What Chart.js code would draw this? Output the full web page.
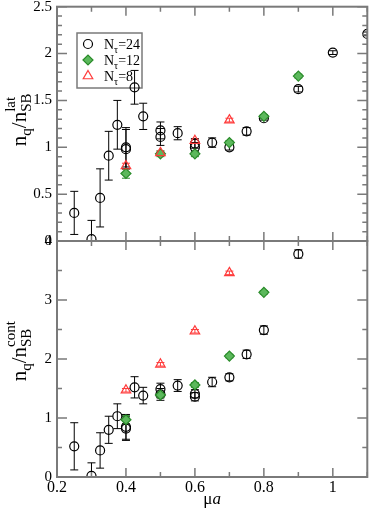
<!DOCTYPE html>
<html>
<head>
<meta charset="utf-8">
<script src="https://cdn.jsdelivr.net/npm/chart.js@4.4.1/dist/chart.umd.min.js"></script>
<style>
  body { margin: 0; background: #fff; }
  #wrap { position: relative; width: 374px; height: 510px; }
  #wrap canvas { position: absolute; left: 0; top: 0; }
</style>
</head>
<body>
<div id="wrap">
  <canvas id="latChart" width="374" height="510"></canvas>
  <canvas id="contChart" width="374" height="510"></canvas>
</div>
<script>
// mu*a values
const muN24 = [0.25, 0.3, 0.325, 0.35, 0.375, 0.4, 0.4, 0.425, 0.45, 0.5, 0.5, 0.55, 0.6, 0.6, 0.65, 0.7, 0.75, 0.8, 0.9, 1.0, 1.1];
const muN12 = [0.4, 0.5, 0.6, 0.7, 0.8, 0.9];
const muN8 = [0.4, 0.5, 0.6, 0.7];

// top panel: n_q / n_SB (lat)
const latN24 = [0.30, 0.02, 0.46, 0.91, 1.24, 1.00, 0.98, 1.64, 1.33, 1.18, 1.11, 1.15, 1.00, 1.04, 1.05, 1.00, 1.17, 1.31, 1.62, 2.01, 2.21];
const latN24Err = [0.23, 0.20, 0.31, 0.26, 0.26, 0.21, 0.21, 0.18, 0.14, 0.09, 0.09, 0.07, 0.05, 0.05, 0.05, 0.03, 0.04, 0.02, 0.03, 0.02, 0.02];
const latN12 = [0.72, 0.93, 0.93, 1.05, 1.33, 1.76];
const latN12Err = [0.05, 0.03, 0.03, 0.02, 0.02, 0.02];
const latN8 = [0.80, 0.94, 1.07, 1.29];
const latN8Err = [0.03, 0.02, 0.02, 0.02];

// bottom panel: n_q / n_SB (cont)
const contN24 = [0.52, 0.02, 0.45, 0.80, 1.03, 0.85, 0.82, 1.52, 1.38, 1.49, 1.40, 1.55, 1.41, 1.36, 1.61, 1.69, 2.08, 2.49, 3.78, null, null];
const contN24Err = [0.40, 0.22, 0.30, 0.23, 0.21, 0.21, 0.20, 0.18, 0.14, 0.10, 0.10, 0.10, 0.07, 0.07, 0.08, 0.06, 0.07, 0.07, 0.07, 0, 0];
const contN12 = [0.97, 1.39, 1.56, 2.05, 3.13, null];
const contN12Err = [0.07, 0.05, 0.04, 0.03, 0.03, 0];
const contN8 = [1.47, 1.91, 2.47, 3.46];
const contN8Err = [0.03, 0.03, 0.03, 0.03];

const seriesLabels = ['24', '12', '8'];
const xTicks = [0.2, 0.4, 0.6, 0.8, 1.0];

const SERIF = '"Liberation Serif", "DejaVu Serif", serif';
const FRAME = '#7a7a7a';
const BLACK = '#000000';
const GREEN = '#2a8c2a';
const GREEN_FILL = '#5cb85c';
const RED = '#ff3b3b';

const styles = [
  { pointStyle: 'circle', radius: 4.5, borderColor: BLACK, backgroundColor: 'rgba(0,0,0,0)' },
  { pointStyle: 'rectRot', radius: 5, borderColor: GREEN, backgroundColor: GREEN_FILL },
  { pointStyle: 'triangle', radius: 5.5, borderColor: RED, backgroundColor: 'rgba(0,0,0,0)' }
];

function pts(xs, ys) {
  return xs.map((x, i) => ({ x: x, y: ys[i] })).filter(p => p.y !== null);
}
function errs(ys, es) {
  return es.filter((e, i) => ys[i] !== null);
}

function makeSet(i, xs, ys, es) {
  const s = styles[i];
  return {
    label: 'N=' + seriesLabels[i],
    data: pts(xs, ys),
    errors: errs(ys, es),
    showLine: false,
    pointStyle: s.pointStyle,
    pointRadius: s.radius,
    pointBorderWidth: 1.2,
    pointBorderColor: s.borderColor,
    pointBackgroundColor: s.backgroundColor
  };
}

// plain number labels: 0, 0.5, 1, 1.5 ...
const fmt = v => String(Math.round(v * 100) / 100);

// error bars, inward ticks, frame, y title, legend
const panelPlugin = {
  id: 'panel',
  beforeDatasetsDraw(chart, args, opts) {
    const ctx = chart.ctx;
    const xs = chart.scales.x, ys = chart.scales.y;
    const a = chart.chartArea;
    if (opts.legend) drawLegend(ctx);
    ctx.save();
    ctx.beginPath();
    ctx.rect(a.left, a.top, a.right - a.left, a.bottom - a.top);
    ctx.clip();
    ctx.lineWidth = 1;
    chart.data.datasets.forEach(ds => {
      ctx.strokeStyle = ds.pointBorderColor;
      ds.data.forEach((p, i) => {
        const e = ds.errors[i];
        if (!e) return;
        const px = xs.getPixelForValue(p.x);
        const y1 = ys.getPixelForValue(p.y + e);
        const y2 = ys.getPixelForValue(p.y - e);
        ctx.beginPath();
        ctx.moveTo(px, y1); ctx.lineTo(px, y2);
        ctx.moveTo(px - 4, y1); ctx.lineTo(px + 4, y1);
        ctx.moveTo(px - 4, y2); ctx.lineTo(px + 4, y2);
        ctx.stroke();
      });
    });
    ctx.restore();
  },
  afterDraw(chart, args, opts) {
    const ctx = chart.ctx;
    const xs = chart.scales.x, ys = chart.scales.y;
    const a = chart.chartArea;
    ctx.save();
    ctx.strokeStyle = FRAME;
    ctx.lineWidth = 1.5;
    // x ticks every 0.1, major every 0.2
    for (let k = 2; k <= 11; k++) {
      const v = k / 10;
      const px = xs.getPixelForValue(v);
      const len = (k % 2 === 0) ? 9 : 5;
      ctx.beginPath();
      ctx.moveTo(px, a.bottom); ctx.lineTo(px, a.bottom - len);
      ctx.moveTo(px, a.top); ctx.lineTo(px, a.top + len);
      ctx.stroke();
    }
    // y ticks
    const n = Math.round((ys.max - ys.min) / opts.minor);
    const per = Math.round(opts.major / opts.minor);
    for (let k = 0; k <= n; k++) {
      const v = ys.min + k * opts.minor;
      const py = ys.getPixelForValue(v);
      const len = (k % per === 0) ? 10 : 5;
      ctx.beginPath();
      ctx.moveTo(a.left, py); ctx.lineTo(a.left + len, py);
      ctx.moveTo(a.right, py); ctx.lineTo(a.right - len, py);
      ctx.stroke();
    }
    ctx.lineWidth = 2;
    ctx.strokeRect(a.left, a.top, a.right - a.left, a.bottom - a.top);

    // y title: n_q / n_SB^sup
    ctx.fillStyle = '#000';
    ctx.translate(26, (a.top + a.bottom) / 2 + opts.titleShift);
    ctx.rotate(-Math.PI / 2);
    const big = '21px ' + SERIF, small = '15px ' + SERIF;
    ctx.font = big; const wN = ctx.measureText('n').width, wS = ctx.measureText('/').width;
    ctx.font = small; const wq = ctx.measureText('q').width, wSB = ctx.measureText('SB').width;
    let x = -(2 * wN + wS + wq + wSB) / 2;
    ctx.textBaseline = 'alphabetic';
    ctx.font = big; ctx.fillText('n', x, 0); x += wN;
    ctx.font = small; ctx.fillText('q', x, 5); x += wq;
    ctx.font = big; ctx.fillText('/', x, 0); x += wS;
    ctx.fillText('n', x, 0); x += wN;
    ctx.font = small; ctx.fillText('SB', x, 5);
    ctx.fillText(opts.sup, x, -11);
    ctx.restore();

    if (opts.xTitle) {
      ctx.save();
      ctx.fillStyle = '#000';
      ctx.textBaseline = 'alphabetic';
      ctx.font = '17px ' + SERIF;
      const wm = ctx.measureText('\u03bc').width;
      ctx.font = 'italic 17px ' + SERIF;
      const wa = ctx.measureText('a').width;
      const cx = (a.left + a.right) / 2;
      ctx.font = '17px ' + SERIF;
      ctx.fillText('\u03bc', cx - (wm + wa) / 2, 504);
      ctx.font = 'italic 17px ' + SERIF;
      ctx.fillText('a', cx - (wm + wa) / 2 + wm, 504);
      ctx.restore();
    }
  }
};

function drawLegend(ctx) {
  ctx.save();
  ctx.strokeStyle = FRAME;
  ctx.lineWidth = 1.5;
  ctx.strokeRect(77, 33, 65, 55);
  const rows = [44, 60, 76];
  rows.forEach((y, i) => {
    const s = styles[i];
    ctx.strokeStyle = s.borderColor;
    ctx.fillStyle = s.backgroundColor;
    ctx.lineWidth = 1.2;
    Chart.helpers.drawPoint(ctx, { pointStyle: s.pointStyle, radius: s.radius, rotation: 0, borderWidth: 1.2 }, 88, y);
    ctx.fillStyle = '#000';
    ctx.textBaseline = 'alphabetic';
    let x = 104;
    ctx.font = '14px ' + SERIF;
    ctx.fillText('N', x, y + 5); x += ctx.measureText('N').width;
    ctx.font = '10px ' + SERIF;
    ctx.fillText('\u03c4', x, y + 9); x += ctx.measureText('\u03c4').width;
    ctx.font = '14px ' + SERIF;
    ctx.fillText('=' + seriesLabels[i], x, y + 5);
  });
  ctx.restore();
}

function baseOptions(yMax, yStep, showX, padding, panelOpts) {
  return {
    responsive: false,
    animation: false,
    devicePixelRatio: 1,
    layout: { padding: padding },
    plugins: { legend: { display: false }, tooltip: { enabled: false }, panel: panelOpts },
    scales: {
      x: {
        type: 'linear', min: 0.2, max: 1.1, display: showX,
        grid: { display: false, drawTicks: false },
        border: { display: false },
        afterBuildTicks: s => { s.ticks = xTicks.map(v => ({ value: v })); },
        ticks: { color: '#000', font: { family: SERIF, size: 16 }, padding: 1, maxRotation: 0, callback: fmt },
        afterFit: s => { s.height = showX ? 33 : 0; s.paddingLeft = 0; s.paddingRight = 0; }
      },
      y: {
        type: 'linear', min: 0, max: yMax,
        grid: { display: false, drawTicks: false },
        border: { display: false },
        ticks: { stepSize: yStep, color: '#000', font: { family: SERIF, size: 15 }, padding: 5, callback: fmt },
        afterFit: s => { s.width = 57; s.paddingTop = 0; s.paddingBottom = 0; }
      }
    }
  };
}

new Chart(document.getElementById('latChart'), {
  type: 'scatter',
  data: {
    datasets: [
      makeSet(2, muN8, latN8, latN8Err),
      makeSet(1, muN12, latN12, latN12Err),
      makeSet(0, muN24, latN24, latN24Err)
    ]
  },
  options: baseOptions(2.5, 0.5, false, { top: 6, right: 4, bottom: 269, left: 0 },
    { minor: 0.1, major: 0.5, sup: 'lat', titleShift: -4, legend: true }),
  plugins: [panelPlugin]
});

new Chart(document.getElementById('contChart'), {
  type: 'scatter',
  data: {
    datasets: [
      makeSet(2, muN8, contN8, contN8Err),
      makeSet(1, muN12, contN12, contN12Err),
      makeSet(0, muN24, contN24, contN24Err)
    ]
  },
  options: baseOptions(4, 1, true, { top: 241, right: 4, bottom: 0, left: 0 },
    { minor: 0.5, major: 1, sup: 'cont', titleShift: -4, legend: false, xTitle: true }),
  plugins: [panelPlugin]
});
</script>
</body>
</html>
